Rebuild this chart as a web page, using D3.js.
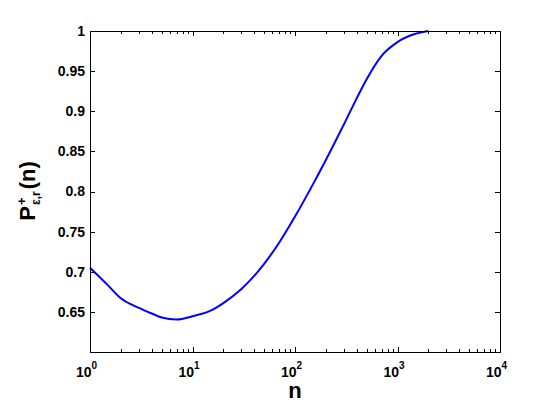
<!DOCTYPE html>
<html><head><meta charset="utf-8">
<script src="https://cdn.jsdelivr.net/npm/d3@7"></script>
<style>body{margin:0;background:#fff}svg{display:block}</style>
</head><body>
<script>
// data
const nValues = [1, 1.5, 2, 3, 4, 5, 7, 10, 15, 20, 30, 40, 50, 70, 100, 150, 200, 250, 300, 400, 500, 700, 1000, 1500, 2000];
const pValues = [0.705, 0.683, 0.667, 0.655, 0.648, 0.643, 0.6405, 0.6445, 0.6515, 0.661, 0.6785, 0.6948, 0.7098, 0.7361, 0.7687, 0.8092, 0.8392, 0.8635, 0.8836, 0.9161, 0.9399, 0.9691, 0.9862, 0.9965, 1.0];
const yTicks = [0.6, 0.65, 0.7, 0.75, 0.8, 0.85, 0.9, 0.95, 1];
const yTickLabels = ["", "0.65", "0.7", "0.75", "0.8", "0.85", "0.9", "0.95", "1"];
const xMajor = [1, 10, 100, 1000, 10000];
const xExponents = ["0", "1", "2", "3", "4"];

const W = 552, H = 410;
const FONT = "'Liberation Sans', Arial, Helvetica, sans-serif";
const svg = d3.select("body").append("svg").attr("width", W).attr("height", H)
  .style("font-family", FONT);

const x = d3.scaleLog().domain([1, 10000]).range([90, 500]);
const y = d3.scaleLinear().domain([0.6, 1]).range([352, 31]);

const xMinor = [];
for (let d = 0; d < xMajor.length - 1; d++) for (let k = 2; k <= 9; k++) xMinor.push(xMajor[d] * k);

// curve
const pts = nValues.map((n, i) => ({n, p: pValues[i]}));
svg.append("path").datum(pts)
  .attr("fill", "none").attr("stroke", "#0000ff").attr("stroke-width", 2)
  .attr("d", d3.line().x(d => x(d.n)).y(d => y(d.p)).curve(d3.curveMonotoneX));

function strip(g) { g.select(".domain").remove(); g.selectAll("line").attr("stroke", "#000").attr("shape-rendering", "crispEdges"); }

// left axis
const yl = svg.append("g").attr("transform", "translate(90,0)")
  .call(d3.axisLeft(y).tickValues(yTicks).tickSizeInner(-5).tickSizeOuter(0).tickPadding(5)
    .tickFormat((d, i) => yTickLabels[i]));
strip(yl);
yl.selectAll("text").attr("font-size", 14).attr("font-weight", "bold").attr("fill", "#000").attr("font-family", FONT);
// right axis
const yr = svg.append("g").attr("transform", "translate(500,0)")
  .call(d3.axisRight(y).tickValues(yTicks).tickSizeInner(-5).tickSizeOuter(0).tickFormat(""));
strip(yr);

// bottom / top axes, majors & minors
[["bottom", 352, d3.axisBottom], ["top", 31, d3.axisTop]].forEach(([side, py, ax]) => {
  const gM = svg.append("g").attr("transform", `translate(0,${py})`)
    .call(ax(x).tickValues(xMajor).tickSizeInner(-5).tickSizeOuter(0).tickFormat(""));
  strip(gM);
  const gm = svg.append("g").attr("transform", `translate(0,${py})`)
    .call(ax(x).tickValues(xMinor).tickSizeInner(-3).tickSizeOuter(0).tickFormat(""));
  strip(gm);
  if (side === "bottom") {
    gM.selectAll(".tick").each(function(d, i) {
      d3.select(this).append("text").attr("fill", "#000")
        .attr("font-family", FONT).attr("font-weight", "bold").attr("font-size", 14)
        .attr("x", 1).attr("y", 25).attr("text-anchor", "end").text("10");
      d3.select(this).append("text").attr("fill", "#000").attr("font-family", FONT)
        .attr("font-weight", "bold").attr("font-size", 10).attr("x", 1).attr("y", 17)
        .attr("text-anchor", "start").text(xExponents[i]);
    });
  }
});

// frame
svg.append("rect").attr("x", 90.5).attr("y", 31.5).attr("width", 410).attr("height", 321)
  .attr("fill", "none").attr("stroke", "#000").attr("stroke-width", 1);

// x label
svg.append("text").attr("x", 295).attr("y", 398).attr("text-anchor", "middle")
  .attr("font-size", 22).attr("font-weight", "bold").attr("fill", "#000").text("n");

// y label: P^+_{ε,r}(n)
const yg = svg.append("g").attr("transform", "translate(35,191) rotate(-90)")
  .attr("font-weight", "bold").attr("fill", "#000");
const inner = yg.append("g");
const tP = inner.append("text").attr("font-size", 22).attr("x", 0).attr("y", 0).text("P");
const wP = tP.node().getComputedTextLength();
const tSup = inner.append("text").attr("font-size", 13).attr("x", wP + 1).attr("y", -9).text("+");
const tSub = inner.append("text").attr("font-size", 12).attr("x", wP + 1).attr("y", 5).text("ε,r");
const wS = Math.max(tSup.node().getComputedTextLength(), tSub.node().getComputedTextLength());
const tN = inner.append("text").attr("font-size", 22).attr("x", wP + 2 + wS + 1).attr("y", 0).text("(n)");
const total = wP + 2 + wS + 1 + tN.node().getComputedTextLength();
inner.attr("transform", `translate(${-total / 2},0)`);
</script>
</body></html>
